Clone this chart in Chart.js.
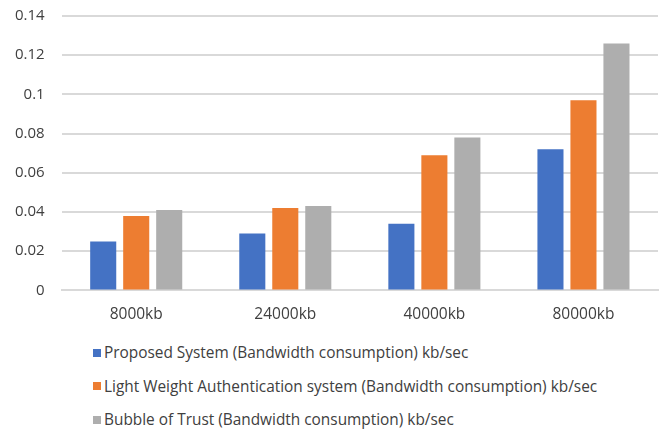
<!DOCTYPE html>
<html>
<head>
<meta charset="utf-8">
<script src="https://cdn.jsdelivr.net/npm/chart.js@4/dist/chart.umd.min.js"></script>
<style>
  body { margin: 0; background: #fff; font-family: "Open Sans", sans-serif; overflow: hidden; }
  #wrap { position: relative; width: 659px; height: 429px; overflow: hidden; }
  #box { position: absolute; left: -2px; top: -10px; width: 661px; height: 341px; }
  #legend { position: absolute; left: 93px; top: 336px; color: #404040; font-size: 15.4px; }
  .item { height: 33.5px; display: flex; align-items: center; }
  .item span.sw { display: inline-block; width: 8px; height: 8px; margin-right: 3px; }
</style>
</head>
<body>
<div id="wrap">
  <div id="box"><canvas id="chart"></canvas></div>
  <div id="legend"></div>
</div>
<script>
const labels = ["8000kb", "24000kb", "40000kb", "80000kb"];
const proposed = [0.025, 0.029, 0.034, 0.072];
const lightWeight = [0.038, 0.042, 0.069, 0.097];
const bubble = [0.041, 0.043, 0.078, 0.126];
const seriesNames = [
    "Proposed System (Bandwidth consumption) kb/sec",
    "Light Weight Authentication system (Bandwidth consumption) kb/sec",
    "Bubble of Trust (Bandwidth consumption) kb/sec"
];
const colors = ['#4472C4', '#ED7D31', '#AEAEAE'];

const values = [proposed, lightWeight, bubble];
var datasets = [];
for (var i = 0; i < values.length; i++) {
    datasets.push({
        label: seriesNames[i],
        data: values[i],
        backgroundColor: colors[i],
        categoryPercentage: 0.664,
        barPercentage: 0.79
    });
}

// legend below the plot, one row per series
const legend = document.getElementById('legend');
for (var i = 0; i < seriesNames.length; i++) {
    legend.innerHTML += `<div class="item"><span class="sw" style="background:${colors[i]}"></span>${seriesNames[i]}</div>`;
}

const chart = new Chart('chart', {
    type: 'bar',
    data: { labels: labels, datasets: datasets },
    options: {
        responsive: true,
        maintainAspectRatio: false,
        animation: false,
        layout: { padding: { left: 0, right: 1, top: 6, bottom: 0 } },
        plugins: {
            legend: { display: false },
            tooltip: { enabled: false }
        },
        scales: {
            x: {
                grid: { display: false },
                border: { color: '#D9D9D9', width: 2 },
                ticks: {
                    color: '#404040',
                    padding: 7,
                    font: { family: 'Open Sans', size: 15.5 }
                }
            },
            y: {
                min: 0,
                max: 0.14,
                border: { display: false },
                grid: { color: '#D9D9D9', lineWidth: 2, drawTicks: false },
                ticks: {
                    stepSize: 0.02,
                    color: '#404040',
                    padding: 17,
                    font: { family: 'Open Sans', size: 15 },
                    callback: function(v) { return parseFloat(v.toFixed(2)).toString(); }
                }
            }
        }
    }
});
</script>
</body>
</html>
